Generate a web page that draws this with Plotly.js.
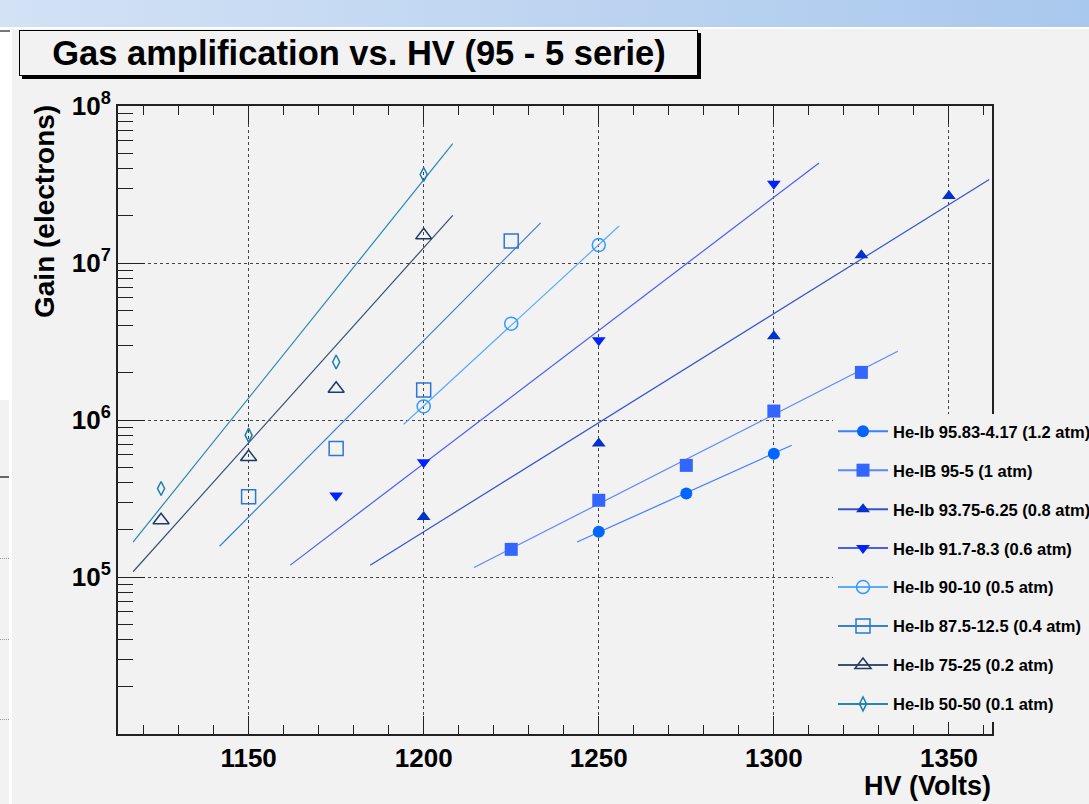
<!DOCTYPE html>
<html>
<head>
<meta charset="utf-8">
<script src="https://cdn.plot.ly/plotly-3.0.1.min.js"></script>
<style>
  html, body { margin:0; padding:0; width:1089px; height:804px; overflow:hidden; background:#f2f2f2; }
  .deco { position:absolute; }
  #chart { position:absolute; left:0; top:0; width:1089px; height:804px; }
</style>
</head>
<body>
<div class="deco" style="left:0;top:0;width:1089px;height:27px;background:linear-gradient(to right,#d3e2f5,#a9c8ed);"></div>
<div class="deco" style="left:0;top:27px;width:1089px;height:2px;background:#ffffff;"></div>
<div class="deco" style="left:0;top:29px;width:12px;height:371px;background:#ffffff;"></div>
<div class="deco" style="left:0;top:30px;width:10px;height:2px;background:#777;"></div>
<div class="deco" style="left:9px;top:400px;width:3px;height:404px;background:#ffffff;"></div>
<div class="deco" style="left:0;top:476px;width:9px;height:2px;background:#666;"></div>
<div class="deco" style="left:0;top:558px;width:9px;border-top:1px dotted #999;"></div>
<div class="deco" style="left:0;top:639px;width:9px;border-top:1px dotted #999;"></div>
<div class="deco" style="left:0;top:719px;width:9px;border-top:1px dotted #999;"></div>
<div class="deco" style="left:22px;top:33px;width:679px;height:46px;background:#000;"></div>
<div class="deco" style="left:19px;top:30px;width:679px;height:46px;background:#f2f2f2;border:1px solid #000;box-sizing:border-box;"></div>
<div id="chart"></div>
<script>
// ---- data ----
const seriesNames = [
  'He-Ib 95.83-4.17 (1.2 atm)',
  'He-IB 95-5 (1 atm)',
  'He-Ib 93.75-6.25 (0.8 atm)',
  'He-Ib 91.7-8.3 (0.6 atm)',
  'He-Ib 90-10 (0.5 atm)',
  'He-Ib 87.5-12.5 (0.4 atm)',
  'He-Ib 75-25 (0.2 atm)',
  'He-Ib 50-50 (0.1 atm)'
];
// measured points (HV in volts, gain in electrons)
const hv_1p2 = [1250, 1275, 1300];
const gain_1p2 = [1.94e5, 3.40e5, 6.1e5];
const hv_1p0 = [1225, 1250, 1275, 1300, 1325];
const gain_1p0 = [1.50e5, 3.08e5, 5.14e5, 1.14e6, 2.01e6];
const hv_0p8 = [1200, 1250, 1300, 1325, 1350];
const gain_0p8 = [2.41e5, 7.08e5, 3.41e6, 1.12e7, 2.67e7];
const hv_0p6 = [1175, 1200, 1250, 1300];
const gain_0p6 = [3.31e5, 5.39e5, 3.22e6, 3.2e7];
const hv_0p5 = [1200, 1225, 1250];
const gain_0p5 = [1.22e6, 4.11e6, 1.30e7];
const hv_0p4 = [1150, 1175, 1200, 1225];
const gain_0p4 = [3.24e5, 6.58e5, 1.55e6, 1.38e7];
const hv_0p2 = [1125, 1150, 1175, 1200];
const gain_0p2 = [2.30e5, 5.81e5, 1.58e6, 1.50e7];
const hv_0p1 = [1125, 1150, 1175, 1200];
const gain_0p1 = [3.66e5, 8.0e5, 2.34e6, 3.66e7];
// exponential fit lines: end points (straight on a log axis)
const fitHV_1p2 = [1243.8, 1305.1];  const fitGain_1p2 = [1.67e5, 6.90e5];
const fitHV_1p0 = [1214.4, 1335.4];  const fitGain_1p0 = [1.15e5, 2.74e6];
const fitHV_0p8 = [1184.7, 1361.5];  const fitGain_0p8 = [1.19e5, 3.40e7];
const fitHV_0p6 = [1161.9, 1312.9];  const fitGain_0p6 = [1.19e5, 4.34e7];
const fitHV_0p5 = [1194.3, 1255.8];  const fitGain_0p5 = [9.40e5, 1.72e7];
const fitHV_0p4 = [1141.7, 1233.4];  const fitGain_0p4 = [1.57e5, 1.80e7];
const fitHV_0p2 = [1117.0, 1208.3];  const fitGain_0p2 = [1.08e5, 2.01e7];
const fitHV_0p1 = [1117.0, 1208.3];  const fitGain_0p1 = [1.67e5, 5.75e7];
// axis ticks
const xTickVals = [1150, 1200, 1250, 1300, 1350];
const xTickText = ['1150', '1200', '1250', '1300', '1350'];
const yTickVals = [1e5, 1e6, 1e7, 1e8];
const yTickText = ['10<sup>5</sup>', '10<sup>6</sup>', '10<sup>7</sup>', '10<sup>8</sup>'];

// ---- styling ----
const pts = [
  [hv_1p2, gain_1p2, fitHV_1p2, fitGain_1p2],
  [hv_1p0, gain_1p0, fitHV_1p0, fitGain_1p0],
  [hv_0p8, gain_0p8, fitHV_0p8, fitGain_0p8],
  [hv_0p6, gain_0p6, fitHV_0p6, fitGain_0p6],
  [hv_0p5, gain_0p5, fitHV_0p5, fitGain_0p5],
  [hv_0p4, gain_0p4, fitHV_0p4, fitGain_0p4],
  [hv_0p2, gain_0p2, fitHV_0p2, fitGain_0p2],
  [hv_0p1, gain_0p1, fitHV_0p1, fitGain_0p1]
];
const styles = [
  {sym:'circle', mc:'#0066ff', lc:'#3d7fff', size:12, open:false},
  {sym:'square', mc:'#3366ff', lc:'#5b87ff', size:13, open:false},
  {sym:'triangle-up', mc:'#0033cc', lc:'#3355cc', size:12, open:false},
  {sym:'triangle-down', mc:'#0022ff', lc:'#4a5ff0', size:12, open:false},
  {sym:'circle-open', mc:'#3399ff', lc:'#5aaaff', size:13, open:true},
  {sym:'square-open', mc:'#2a78d6', lc:'#3a80cc', size:14, open:true},
  {sym:'triangle-up-open', mc:'#1f3a66', lc:'#3c5070', size:14, open:true},
  {sym:'diamond-tall-open', mc:'#1a7fb0', lc:'#2a88b0', size:10, open:true}
];

const traces = [];
pts.forEach((p, i) => {
  const s = styles[i];
  traces.push({
    x: p[2], y: p[3], type:'scatter', mode:'lines',
    line:{color:s.lc, width:1.2}, showlegend:false, hoverinfo:'skip', legendgroup:'g'+i
  });
  traces.push({
    x: p[0], y: p[1], type:'scatter', mode:'markers',
    marker:{symbol:s.sym, size:s.size, color:s.mc, line:{color:s.mc, width: s.open ? 1.5 : 0}},
    showlegend:false, legendgroup:'g'+i
  });
});
// legend entries (no data of their own)
pts.forEach((p, i) => {
  const s = styles[i];
  traces.push({
    x:[null], y:[null], type:'scatter', mode:'lines+markers', name: seriesNames[i],
    line:{color:s.lc, width:2},
    marker:{symbol:s.sym, size:s.size, color:s.mc, line:{color:s.mc, width: s.open ? 1.5 : 0}},
    legendgroup:'g'+i, showlegend:true
  });
});

const minorY = [];
for (let d = 4; d < 8; d++) for (let m = 2; m <= 9; m++) minorY.push(m * Math.pow(10, d));

const L = 118, R = 992, T = 106, B = 734;
const px = v => (v - L) / (R - L);
const py = v => (B - v) / (B - T);

const layout = {
  width:1089, height:804,
  margin:{l:L, r:1089-R, t:T, b:804-B, autoexpand:false},
  paper_bgcolor:'rgba(0,0,0,0)', plot_bgcolor:'rgba(0,0,0,0)',
  font:{family:'"Liberation Sans", Arial, sans-serif', color:'#000'},
  title:{text:'Gas amplification vs. HV (95 - 5 serie)', font:{size:34.5, weight:'bold'},
         x:359/1089, xref:'container', xanchor:'center', y:1-53/804, yref:'container', yanchor:'middle'},
  xaxis:{range:[1112.7, 1362.3], tickvals:xTickVals, ticktext:xTickText,
         ticks:'inside', ticklen:18, tickwidth:1, tickcolor:'#222',
         showgrid:true, gridcolor:'#444', griddash:'dot', gridwidth:1,
         showline:true, linecolor:'#222', linewidth:2, mirror:'ticks', zeroline:false,
         tickfont:{size:26, weight:'bold'},
         minor:{dtick:10, ticks:'inside', ticklen:9, tickwidth:1, tickcolor:'#222', showgrid:false}},
  yaxis:{type:'log', range:[4, 8], tickvals:yTickVals, ticktext:yTickText,
         ticks:'inside', ticklen:27, tickwidth:1, tickcolor:'#222',
         showgrid:true, gridcolor:'#444', griddash:'dot', gridwidth:1,
         showline:true, linecolor:'#222', linewidth:2, mirror:true, zeroline:false,
         tickfont:{size:26, weight:'bold'},
         minor:{tickvals:minorY, ticks:'inside', ticklen:15, tickwidth:1, tickcolor:'#222', showgrid:false}},
  legend:{x:px(833), xanchor:'left', y:py(414), yanchor:'top', bgcolor:'#f2f2f2', borderwidth:0,
          font:{size:16.5, weight:'bold'}, itemwidth:50, tracegroupgap:14.5, traceorder:'grouped'},
  annotations:[
    {text:'Gain (electrons)', textangle:-90, xref:'paper', yref:'paper', x:px(45), y:py(212),
     xanchor:'center', yanchor:'middle', showarrow:false, font:{size:28, weight:'bold'}},
    {text:'HV (Volts)', xref:'paper', yref:'paper', x:px(993), y:py(786),
     xanchor:'right', yanchor:'middle', showarrow:false, font:{size:27, weight:'bold'}}
  ]
};

Plotly.newPlot('chart', traces, layout, {displayModeBar:false, staticPlot:true});
</script>
</body>
</html>
